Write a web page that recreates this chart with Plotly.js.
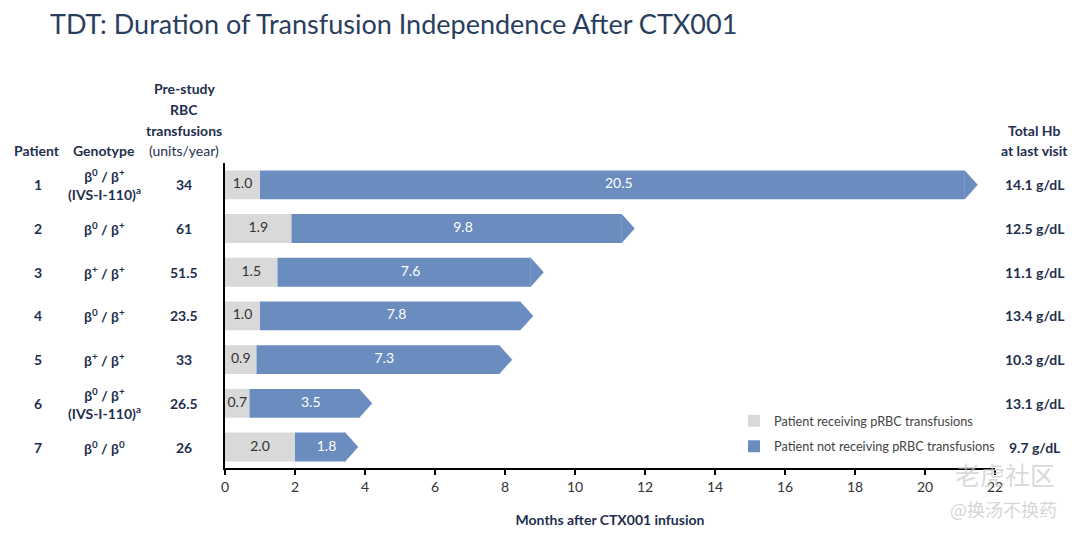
<!DOCTYPE html>
<html>
<head>
<meta charset="utf-8">
<script src="https://cdn.plot.ly/plotly-3.0.1.min.js"></script>
<style>html,body{margin:0;padding:0;background:#fff;}#chart{width:1080px;height:533px;}</style>
</head>
<body>
<div id="chart"></div>
<script>
// ---- data ----
const patients = [1, 2, 3, 4, 5, 6, 7];
const genotypes = [
  "β<sup>0</sup> / β<sup>+</sup><br>(IVS-I-110)<sup>a</sup>",
  "β<sup>0</sup> / β<sup>+</sup>",
  "β<sup>+</sup> / β<sup>+</sup>",
  "β<sup>0</sup> / β<sup>+</sup>",
  "β<sup>+</sup> / β<sup>+</sup>",
  "β<sup>0</sup> / β<sup>+</sup><br>(IVS-I-110)<sup>a</sup>",
  "β<sup>0</sup> / β<sup>0</sup>"
];
const preStudyRBC = ["34", "61", "51.5", "23.5", "33", "26.5", "26"];
const receivingMonths = [1.0, 1.9, 1.5, 1.0, 0.9, 0.7, 2.0];
const notReceivingMonths = [20.5, 9.8, 7.6, 7.8, 7.3, 3.5, 1.8];
const totalHb = ["14.1 g/dL", "12.5 g/dL", "11.1 g/dL", "13.4 g/dL", "10.3 g/dL", "13.1 g/dL", "9.7 g/dL"];
const xTickVals = [0, 2, 4, 6, 8, 10, 12, 14, 16, 18, 20, 22];

// ---- style / layout constants ----
const GRAY = "#d9d9d9";
const BLUE = "#6b8cbe";
const NAVY = "#1f2f4e";
const FONT = "Lato, 'Open Sans', sans-serif";
const BAR_W = 0.66;
const ARROW = 0.37;
const L = 225, R = 85, T = 163, B = 65, W = 1080, H = 533;
const PW = W - L - R, PH = H - T - B;
const px2x = p => (p - L) / PW;
const py2y = p => (H - B - p) / PH;

const totals = patients.map((p, i) => receivingMonths[i] + notReceivingMonths[i]);

// arrow head polygons
const ax = [], ay = [];
patients.forEach((p, i) => {
  const t = totals[i];
  ax.push(t - ARROW, t, t - ARROW, t - ARROW, null);
  ay.push(p - BAR_W / 2, p, p + BAR_W / 2, p - BAR_W / 2, null);
});

const traces = [
  {
    type: "bar", orientation: "h", name: "Patient receiving pRBC transfusions",
    y: patients, x: receivingMonths, base: patients.map(() => 0),
    width: BAR_W, marker: { color: GRAY, line: { width: 0 } },
    hoverinfo: "skip", legendgroup: "a"
  },
  {
    type: "bar", orientation: "h", name: "Patient not receiving pRBC transfusions",
    y: patients, x: notReceivingMonths.map(v => v - ARROW), base: receivingMonths,
    width: BAR_W, marker: { color: BLUE, line: { width: 0 } },
    hoverinfo: "skip", legendgroup: "b"
  },
  {
    type: "scatter", mode: "lines", x: ax, y: ay, fill: "toself",
    fillcolor: BLUE, line: { color: BLUE, width: 0.5 }, showlegend: false, hoverinfo: "skip"
  },
  {
    type: "scatter", mode: "text", showlegend: false, hoverinfo: "skip",
    x: receivingMonths.map(v => v / 2), y: patients,
    text: receivingMonths.map(v => v.toFixed(1)),
    textfont: { family: FONT, size: 14, color: "#333333" }
  },
  {
    type: "scatter", mode: "text", showlegend: false, hoverinfo: "skip",
    x: patients.map((p, i) => (receivingMonths[i] + totals[i]) / 2), y: patients,
    text: notReceivingMonths.map(v => v.toFixed(1)),
    textfont: { family: FONT, size: 14, color: "#ffffff" }
  }
];

const ann = [];
const colText = (x, y, text, yref, extra) => Object.assign({
  xref: "paper", yref: yref, x: px2x(x), y: y, text: text, showarrow: false,
  xanchor: "center", yanchor: "middle",
  font: { family: FONT, size: 14, color: NAVY, weight: "bold" }
}, extra || {});

// headers
ann.push(colText(37, py2y(150), "Patient", "paper"));
ann.push(colText(104, py2y(150), "Genotype", "paper"));
ann.push(colText(184, py2y(89), "Pre-study", "paper"));
ann.push(colText(184, py2y(109), "RBC", "paper"));
ann.push(colText(184, py2y(130), "transfusions", "paper"));
ann.push(colText(184, py2y(150), "(units/year)", "paper", { font: { family: FONT, size: 14, color: NAVY } }));
ann.push(colText(1034, py2y(130), "Total Hb", "paper"));
ann.push(colText(1034, py2y(150), "at last visit", "paper"));

patients.forEach((p, i) => {
  ann.push(colText(38, p, String(p), "y"));
  ann.push(colText(104, p, genotypes[i], "y", { align: "center" }));
  ann.push(colText(184, p, preStudyRBC[i], "y"));
  ann.push(colText(1035, p, totalHb[i], "y"));
});

// watermark
ann.push({ xref: "paper", yref: "paper", x: px2x(1005), y: py2y(474), text: "老虎社区", showarrow: false,
  xanchor: "center", yanchor: "middle", font: { family: "Noto Sans CJK SC", size: 25, color: "rgba(200,200,200,0.7)" } });
ann.push({ xref: "paper", yref: "paper", x: px2x(1003), y: py2y(509), text: "@换汤不换药", showarrow: false,
  xanchor: "center", yanchor: "middle", font: { family: "Noto Sans CJK SC", size: 18, color: "rgba(200,200,200,0.75)" } });

const layout = {
  width: W, height: H,
  margin: { l: L, r: R, t: T, b: B, pad: 0 },
  paper_bgcolor: "#ffffff", plot_bgcolor: "#ffffff",
  barmode: "overlay",
  font: { family: FONT, size: 14, color: "#333333" },
  title: {
    text: "TDT: Duration of Transfusion Independence After CTX001",
    x: 50 / W, xanchor: "left", xref: "container", y: 1 - 25 / H, yanchor: "middle", yref: "container",
    font: { family: FONT, size: 27, color: "#2a3e5e" }
  },
  xaxis: {
    range: [0, 22], tickvals: xTickVals, ticktext: xTickVals.map(String),
    showgrid: false, zeroline: false, showline: true, linecolor: "#000", linewidth: 2,
    ticks: "outside", ticklen: 5, tickwidth: 1.5, tickcolor: "#000",
    tickfont: { family: FONT, size: 14, color: "#333" },
    title: { text: "<b>Months after CTX001 infusion</b>", standoff: 21,
      font: { family: FONT, size: 14, color: NAVY } },
    fixedrange: true
  },
  yaxis: {
    range: [7.48, 0.5], showticklabels: false, ticks: "", showgrid: false, zeroline: false,
    showline: true, linecolor: "#000", linewidth: 2, fixedrange: true
  },
  showlegend: true,
  legend: {
    x: px2x(734), y: py2y(406), xanchor: "left", yanchor: "top",
    bgcolor: "rgba(0,0,0,0)", font: { family: FONT, size: 12.7, color: "#444" },
    traceorder: "grouped", tracegroupgap: 6, itemwidth: 30
  },
  annotations: ann
};

Plotly.newPlot("chart", traces, layout, { displayModeBar: false, staticPlot: true });
</script>
</body>
</html>
